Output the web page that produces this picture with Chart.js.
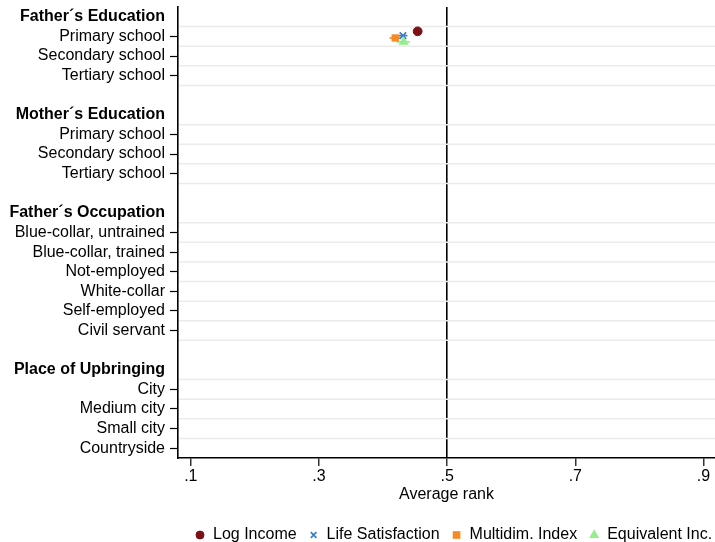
<!DOCTYPE html>
<html>
<head>
<meta charset="utf-8">
<script src="https://cdn.jsdelivr.net/npm/chart.js@4/dist/chart.umd.min.js"></script>
<style>
  html, body { margin: 0; padding: 0; background: #ffffff; }
  canvas { display: block; }
</style>
</head>
<body>
<canvas id="c" width="715" height="542"></canvas>
<script>
// ---- categories ----
const groupTitles = ["Father´s Education", "Mother´s Education", "Father´s Occupation", "Place of Upbringing"];
const fatherEducation = ["Primary school", "Secondary school", "Tertiary school"];
const motherEducation = ["Primary school", "Secondary school", "Tertiary school"];
const fatherOccupation = ["Blue-collar, untrained", "Blue-collar, trained", "Not-employed", "White-collar", "Self-employed", "Civil servant"];
const upbringing = ["City", "Medium city", "Small city", "Countryside"];

// ---- average rank per category (16 categories in the order listed above; null = no estimate) ----
const logIncome          = [0.454, null, null, null, null, null, null, null, null, null, null, null, null, null, null, null];
const lifeSatisfaction   = [0.431, null, null, null, null, null, null, null, null, null, null, null, null, null, null, null];
const multidimIndex      = [0.419, null, null, null, null, null, null, null, null, null, null, null, null, null, null, null];
const equivalentIncome   = [0.432, null, null, null, null, null, null, null, null, null, null, null, null, null, null, null];

// ---- confidence bounds ----
const logIncomeLow        = [0.451, null, null, null, null, null, null, null, null, null, null, null, null, null, null, null];
const logIncomeHigh       = [0.457, null, null, null, null, null, null, null, null, null, null, null, null, null, null, null];
const lifeSatisfactionLow = [0.424, null, null, null, null, null, null, null, null, null, null, null, null, null, null, null];
const lifeSatisfactionHigh= [0.438, null, null, null, null, null, null, null, null, null, null, null, null, null, null, null];
const multidimIndexLow    = [0.410, null, null, null, null, null, null, null, null, null, null, null, null, null, null, null];
const multidimIndexHigh   = [0.428, null, null, null, null, null, null, null, null, null, null, null, null, null, null, null];
const equivalentIncomeLow = [0.421, null, null, null, null, null, null, null, null, null, null, null, null, null, null, null];
const equivalentIncomeHigh= [0.442, null, null, null, null, null, null, null, null, null, null, null, null, null, null, null];

// ---- x-axis tick values ----
const xTickValues = [0.1, 0.3, 0.5, 0.7, 0.9];
const referenceRank = 0.5;

const FONT = '"Liberation Sans", Arial, Helvetica, sans-serif';
Chart.defaults.font.family = FONT;
Chart.defaults.font.size = 16;
Chart.defaults.color = '#000000';

// series styling
const series = [
  { name: "Log Income",        values: logIncome,        low: logIncomeLow,        high: logIncomeHigh,        color: '#7d1016', style: 'circle',   radius: 4.4, keyRadius: 4,   bw: 1,   shift: -0.26 },
  { name: "Life Satisfaction", values: lifeSatisfaction, low: lifeSatisfactionLow, high: lifeSatisfactionHigh, color: '#3a7ec2', style: 'crossRot', radius: 4.6, keyRadius: 4,   bw: 1.7, shift: -0.04 },
  { name: "Multidim. Index",   values: multidimIndex,    low: multidimIndexLow,    high: multidimIndexHigh,    color: '#f68b24', style: 'rect',     radius: 5.2, keyRadius: 5.4, bw: 0,   shift: 0.08 },
  { name: "Equivalent Inc.",   values: equivalentIncome, low: equivalentIncomeLow, high: equivalentIncomeHigh, color: '#93ee8d', style: 'triangle', radius: 5.8, keyRadius: 5.8, bw: 0,   shift: 0.28 }
];

// rows of the y axis: group header, its categories, a spacer between groups
const groupItems = [fatherEducation, motherEducation, fatherOccupation, upbringing];
const rows = [];
let itemCounter = 0;
groupItems.forEach((items, g) => {
  if (g > 0) rows.push({ label: '', kind: 'blank' });
  rows.push({ label: groupTitles[g], kind: 'header' });
  items.forEach(name => rows.push({ label: name, kind: 'item', item: itemCounter++ }));
});
const itemRow = [];
rows.forEach((r, i) => { if (r.kind === 'item') itemRow[r.item] = i; });

// row boundaries around each category (light separators)
const separatorValues = [];
rows.forEach((r, i) => {
  if (r.kind !== 'item') return;
  if (!separatorValues.includes(i - 0.5)) separatorValues.push(i - 0.5);
  separatorValues.push(i + 0.5);
});

// datasets
const datasets = [];
series.forEach((s, k) => {
  const pts = [];
  s.values.forEach((v, i) => {
    if (v == null) return;
    const y = itemRow[i] + s.shift;
    pts.push({ x: v, y: y });
    if (s.low[i] != null && s.high[i] != null) {
      datasets.push({
        label: s.name + ' interval',
        data: [{ x: s.low[i], y: y }, { x: s.high[i], y: y }],
        showLine: true,
        pointRadius: 0,
        borderColor: s.color,
        backgroundColor: s.color,
        borderWidth: 1.6,
        order: 20 + k
      });
    }
  });
  datasets.push({
    label: s.name,
    data: pts,
    pointStyle: s.style,
    pointRadius: s.radius,
    pointBorderWidth: s.bw,
    backgroundColor: s.color,
    borderColor: s.color,
    order: 10 - k
  });
});

// light separators between category rows, placed with the y scale
const separatorPlugin = {
  id: 'rowSeparators',
  beforeDatasetsDraw(chart) {
    const { ctx, chartArea, scales } = chart;
    const yScale = scales.y;
    ctx.save();
    ctx.strokeStyle = '#ebebeb';
    ctx.lineWidth = 1.5;
    separatorValues.forEach(v => {
      const py = yScale.getPixelForValue(v);
      if (py >= chartArea.bottom - 1) return;
      ctx.beginPath();
      ctx.moveTo(chartArea.left + 1, py);
      ctx.lineTo(chartArea.right, py);
      ctx.stroke();
    });
    ctx.restore();
  }
};

// legend row under the axis title
const keyPlugin = {
  id: 'bottomKey',
  afterDraw(chart) {
    const ctx = chart.ctx;
    ctx.save();
    ctx.font = '16px ' + FONT;
    ctx.textBaseline = 'middle';
    ctx.textAlign = 'left';
    const y = 535;
    let x = 200;
    series.forEach(s => {
      ctx.fillStyle = s.color;
      ctx.strokeStyle = s.color;
      ctx.lineWidth = s.bw;
      Chart.helpers.drawPoint(ctx, { pointStyle: s.style, radius: s.keyRadius, borderWidth: s.bw, rotation: 0 }, x, y);
      ctx.fillStyle = '#000000';
      ctx.fillText(s.name, x + 13, y);
      x += 13 + ctx.measureText(s.name).width + 17;
    });
    ctx.restore();
  }
};

new Chart(document.getElementById('c'), {
  type: 'scatter',
  data: { datasets: datasets },
  plugins: [separatorPlugin, keyPlugin],
  options: {
    responsive: false,
    devicePixelRatio: 1,
    animation: false,
    events: [],
    layout: { autoPadding: false, padding: { top: 7, left: 0, right: 0, bottom: 0 } },
    plugins: { legend: { display: false }, tooltip: { enabled: false } },
    scales: {
      x: {
        type: 'linear',
        position: 'bottom',
        min: 0.08,
        max: 0.918,
        afterBuildTicks: s => { s.ticks = xTickValues.map(v => ({ value: v })); },
        afterFit: s => { s.height = 84; s.paddingLeft = 0; s.paddingRight = 0; },
        ticks: {
          padding: 1,
          color: '#000000',
          font: { size: 16 },
          maxRotation: 0,
          autoSkip: false,
          callback: v => Number(v).toFixed(1).replace(/^0/, '')
        },
        grid: {
          drawOnChartArea: true,
          color: ctx => (ctx.tick && Math.abs(ctx.tick.value - referenceRank) < 1e-9) ? '#000000' : 'rgba(0,0,0,0)',
          lineWidth: 1.6,
          tickColor: '#000000',
          tickWidth: 1.2,
          tickLength: 8
        },
        border: { display: true, color: '#000000', width: 1.6 },
        title: { display: true, text: 'Average rank', color: '#000000', font: { size: 16 }, padding: { top: 0, bottom: 38 } }
      },
      y: {
        type: 'linear',
        position: 'left',
        reverse: true,
        min: -0.5,
        max: rows.length - 0.5,
        afterBuildTicks: s => {
          s.ticks = rows.map((r, i) => ({ value: i })).filter(t => rows[t.value].kind !== 'blank');
        },
        afterFit: s => { s.width = 178; s.paddingTop = 0; s.paddingBottom = 0; },
        ticks: {
          autoSkip: false,
          padding: 5,
          color: '#000000',
          font: ctx => ({ size: 16, weight: (ctx.tick && rows[ctx.tick.value] && rows[ctx.tick.value].kind === 'header') ? 'bold' : 'normal' }),
          callback: v => rows[v] ? rows[v].label : ''
        },
        grid: {
          drawOnChartArea: false,
          drawTicks: true,
          tickLength: 8,
          tickWidth: 1.2,
          tickColor: ctx => (ctx.tick && rows[ctx.tick.value] && rows[ctx.tick.value].kind === 'item') ? '#000000' : 'rgba(0,0,0,0)'
        },
        border: { display: true, color: '#000000', width: 1.6 }
      }
    }
  }
});
</script>
</body>
</html>
